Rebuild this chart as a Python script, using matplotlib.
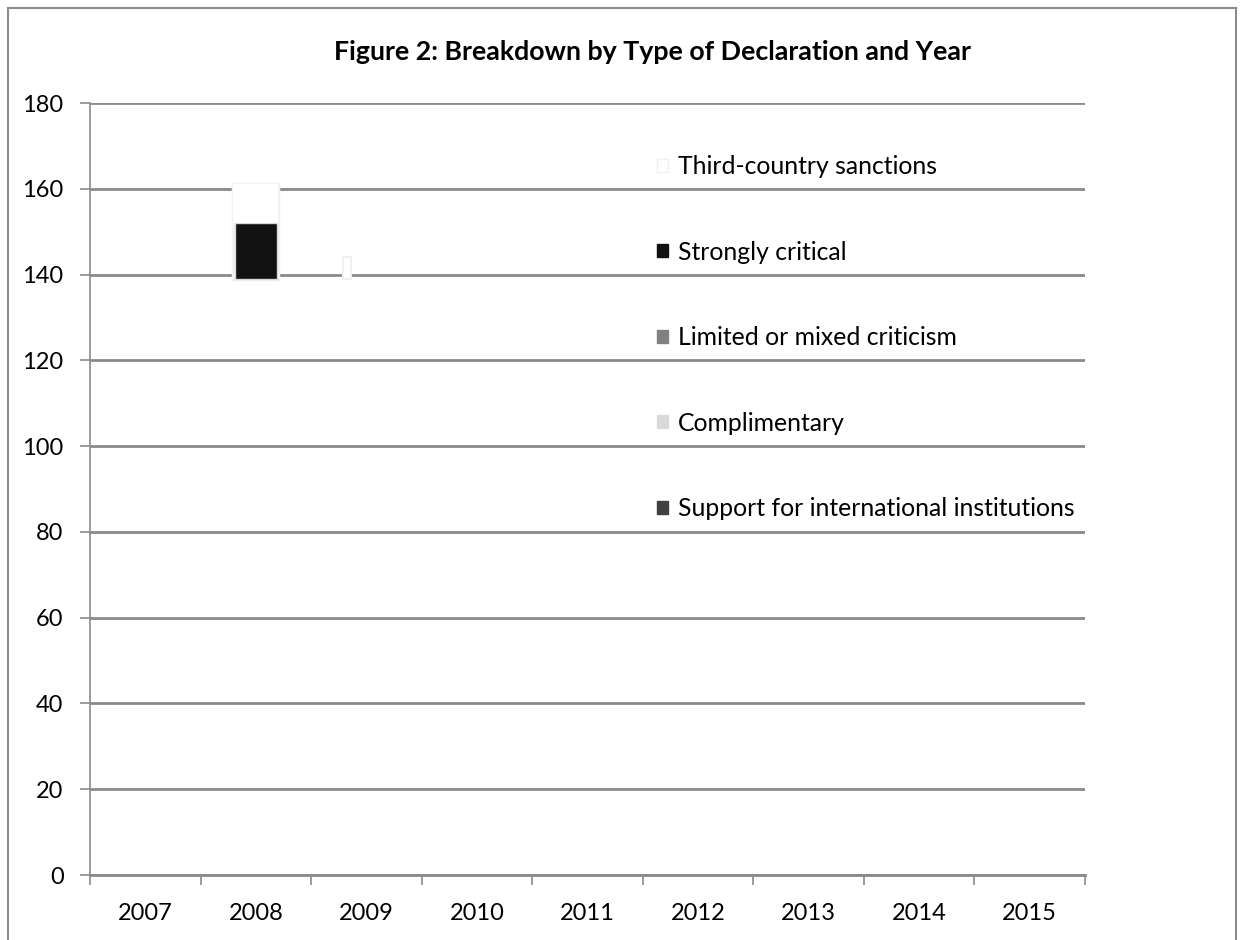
import matplotlib
matplotlib.use("Agg")
import matplotlib.pyplot as plt
from matplotlib.patches import Patch
import numpy as np

years = ["2007", "2008", "2009", "2010", "2011", "2012", "2013", "2014", "2015"]
series_names = ["Third-country sanctions", "Strongly critical", "Limited or mixed criticism",
                "Complimentary", "Support for international institutions"]
series_colors = ["#FFFFFF", "#111111", "#808080", "#D9D9D9", "#404040"]
# visible fragments of the stacks (base where the visible part starts)
visible_base = [0, 139, 139, 0, 0, 0, 0, 0, 0]
strongly_critical = [0, 13, 0, 0, 0, 0, 0, 0, 0]
third_country = [0, 9, 5, 0, 0, 0, 0, 0, 0]
yticks = [0, 20, 40, 60, 80, 100, 120, 140, 160, 180]

plt.rcParams['font.family'] = ['Lato', 'DejaVu Sans']
fig = plt.figure(figsize=(12.44, 9.40), dpi=100)
fig.patch.set_facecolor("white")

# outer frame
fc = "#8c8c8c"
fig.add_artist(plt.Line2D([8/1244, 8/1244], [0, 1 - 8/940], transform=fig.transFigure, color=fc, lw=1.5))
fig.add_artist(plt.Line2D([8/1244, 1236/1244], [1 - 8/940, 1 - 8/940], transform=fig.transFigure, color=fc, lw=1.5))
fig.add_artist(plt.Line2D([1236/1244, 1236/1244], [0, 1 - 8/940], transform=fig.transFigure, color=fc, lw=1.5))

ax = fig.add_axes([90/1244, 1 - 875/940, (1085 - 90)/1244, (875 - 103)/940])
x = np.arange(len(years))
w = 0.41

ax.set_axisbelow(True)
ax.yaxis.grid(True, color="#8a8a8a", lw=2)

sc = np.array(strongly_critical)
tc = np.array(third_country)
base = np.array(visible_base)
# 2008 fragments
i = 1
ax.bar(x[i], sc[i] + tc[i], w, bottom=base[i], color="white", edgecolor="#f2f2f2", lw=2.5, zorder=2)
ax.bar(x[i], sc[i], w * 0.93, bottom=base[i], color=series_colors[1], edgecolor="#d8d8d8", lw=1, zorder=3)
ax.bar(x[i], tc[i], w, bottom=base[i] + sc[i], color=series_colors[0], edgecolor="none", lw=0, zorder=3)
# 2009 sliver
j = 2
ax.bar(x[j] - w / 2 - 0.01, tc[j], 0.08, bottom=base[j], align="edge", color="white",
       edgecolor="#f0f0f0", lw=1.5, zorder=3)

ax.set_xlim(-0.5, len(years) - 0.5)
ax.set_ylim(0, 180)
ax.set_yticks(yticks)
ax.set_yticklabels([str(v) for v in yticks], fontsize=17)
ax.set_xticks(np.arange(-0.5, len(years), 1.0))
ax.set_xticklabels([])
ax.set_xticks(x, minor=True)
ax.set_xticklabels(years, minor=True, fontsize=17)
ax.tick_params(axis="x", which="major", length=7, color="#8a8a8a", width=1.2, direction="out")
ax.tick_params(axis="x", which="minor", length=0, pad=20.5)
ax.tick_params(axis="y", length=7, color="#8a8a8a", width=1.2, pad=12)
for s in ["top", "right"]:
    ax.spines[s].set_visible(False)
ax.spines["left"].set_color("#8a8a8a")
ax.spines["left"].set_linewidth(1.2)
ax.spines["bottom"].set_color("#8a8a8a")
ax.spines["bottom"].set_linewidth(2)

handles = [Patch(facecolor=c, edgecolor="#f0f0f0" if c == "#FFFFFF" else c) for c in series_colors]
leg = fig.legend(handles, series_names, loc="upper left", bbox_to_anchor=(657/1244, 1 - 155/940),
                 frameon=False, fontsize=17.8, handlelength=0.43, handleheight=0.43,
                 handletextpad=0.4, labelspacing=2.53, borderaxespad=0, borderpad=0)

fig.text(652/1244, 1 - 52/940, "Figure 2: Breakdown by Type of Declaration and Year", ha="center", va="center",
         fontsize=19.3, fontweight="bold")

fig.savefig("out.png", dpi=100, facecolor="white")
